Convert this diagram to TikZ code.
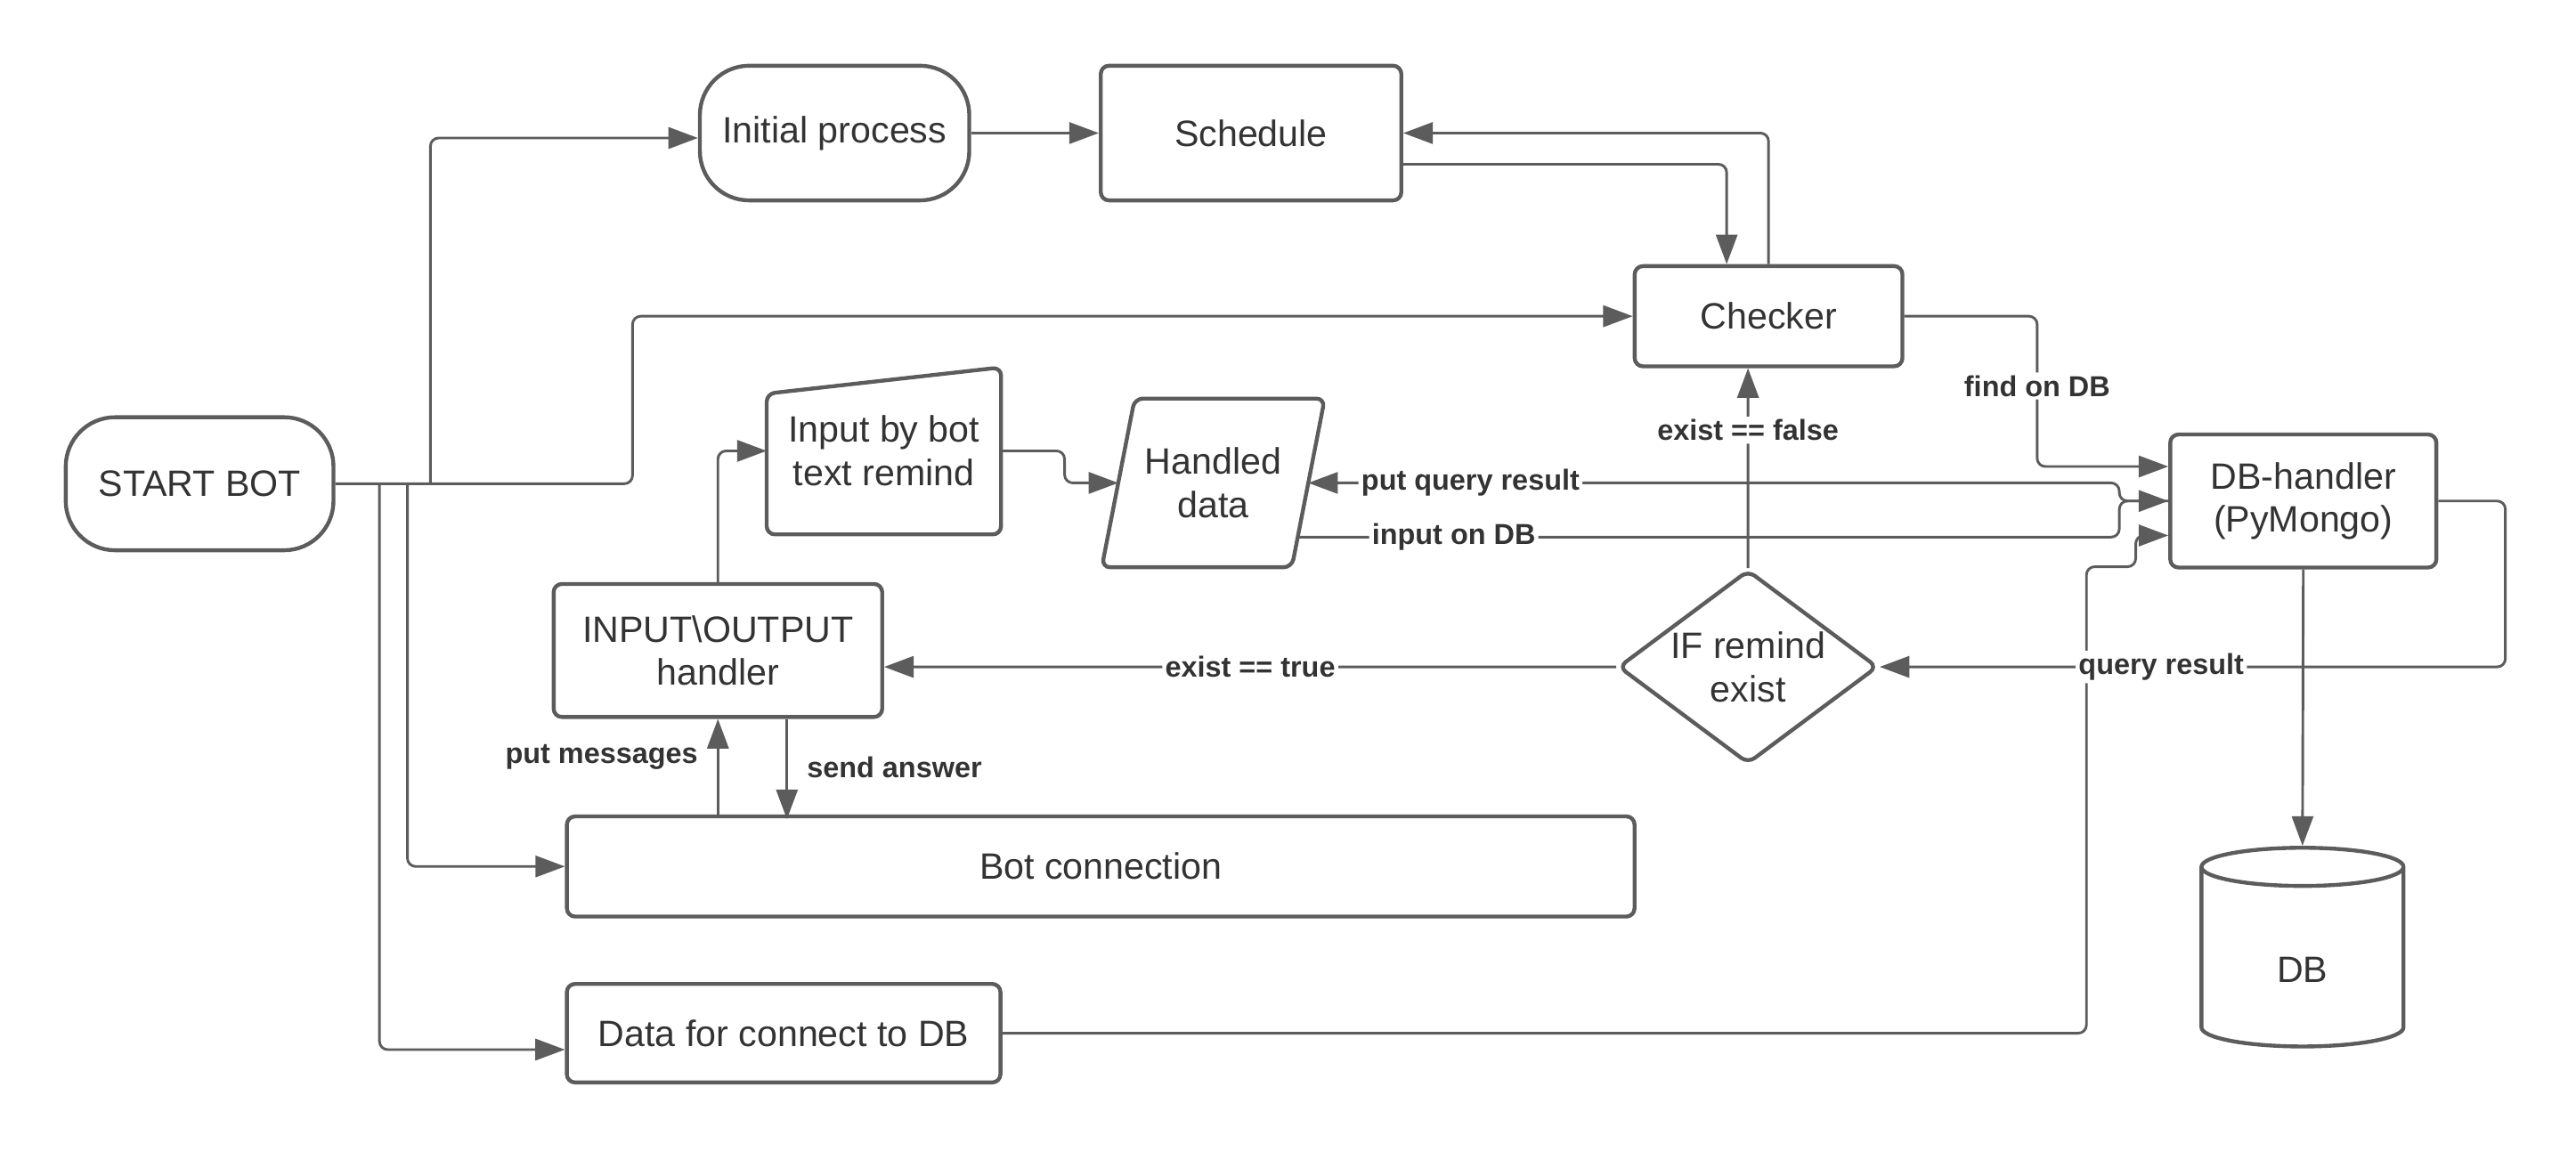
\documentclass[tikz,border=0pt]{standalone}
\usepackage{fontspec}
\setmainfont{Liberation Sans}
\usepackage{tikz}
\usetikzlibrary{shapes.geometric,arrows.meta,calc}
\definecolor{linegrey}{HTML}{5C5C5C}
\definecolor{textgrey}{HTML}{333333}

\begin{document}
\begin{tikzpicture}[x=0.02cm, y=-0.02cm,
  procbox/.style={rectangle, draw=linegrey, line width=1.35pt, rounded corners=0.1cm, text=textgrey, font=\fontsize{12.7}{15}\selectfont, align=center, inner sep=0pt},
  termbox/.style={procbox, rounded corners=0.6cm},
  freebox/.style={rectangle, text=textgrey, font=\fontsize{12.7}{15}\selectfont, align=center, inner sep=0pt},
  outline/.style={draw=linegrey, line width=1.35pt, rounded corners=0.1cm},
  decbox/.style={diamond, draw=linegrey, line width=1.35pt, rounded corners=0.1cm, text=textgrey, font=\fontsize{12.7}{15}\selectfont, align=center, inner sep=0pt, minimum width=3.16cm, minimum height=2.36cm, aspect=1.34},
  dbbox/.style={cylinder, shape border rotate=90, aspect=0.75, draw=linegrey, line width=1.35pt, text=textgrey, font=\fontsize{12.7}{15}\selectfont, minimum width=2.46cm, minimum height=2.42cm, inner sep=0pt},
  conn/.style={draw=linegrey, line width=0.9pt, rounded corners=0.1cm, -{Triangle[length=0.36cm,width=0.26cm]}},
  lbl/.style={fill=white, text=textgrey, font=\fontsize{10}{12}\selectfont\bfseries, inner sep=1pt},
  sidelbl/.style={text=textgrey, font=\fontsize{10}{12}\selectfont\bfseries, inner sep=6.5pt}
]
  \useasboundingbox (0,0) rectangle (1568,701);

  \node[termbox, minimum width=3.26cm, minimum height=1.62cm] (start) at (121.5,294.5) {START BOT};
  \node[termbox, minimum width=3.28cm, minimum height=1.64cm] (init) at (508,81) {Initial process};
  \node[procbox, minimum width=3.66cm, minimum height=1.64cm] (sched) at (761.5,81) {Schedule};
  \node[procbox, minimum width=3.26cm, minimum height=1.22cm] (check) at (1076.5,192.5) {Checker};
  \node[freebox, minimum width=2.84cm, minimum height=2.02cm] (inbot) at (538,274.5) {Input by bot\\text remind};
  \node[freebox, minimum width=2.70cm, minimum height=2.04cm] (hdata) at (738.5,294) {Handled\\data};
  \node[procbox, minimum width=3.24cm, minimum height=1.62cm] (dbh) at (1402,305) {DB-handler\\(PyMongo)};
  \node[procbox, minimum width=4cm, minimum height=1.62cm] (ioh) at (437,396) {INPUT\textbackslash OUTPUT\\handler};
  \node[decbox] (ifr) at (1064,406) {IF remind\\exist};
  \node[procbox, minimum width=13cm, minimum height=1.22cm] (botc) at (670,527.5) {Bot connection};
  \node[procbox, minimum width=5.28cm, minimum height=1.2cm] (dcon) at (477,629) {Data for connect to DB};
  \node[dbbox] (db) at (1401.5,583) {\raisebox{-0.3cm}[0pt][0pt]{DB}};

  \draw[outline] ($(inbot.north west)+(0,16)$) -- (inbot.north east) -- (inbot.south east) -- (inbot.south west) -- cycle;
  \draw[outline] ($(hdata.north west)+(20,0)$) -- (hdata.north east) -- ($(hdata.south east)-(20,0)$) -- (hdata.south west) -- cycle;

  \coordinate (splitA) at (262,294.5);
  \coordinate (splitB) at (248,294.5);
  \coordinate (splitC) at (231,294.5);

  \draw[conn] (start.east) -- (385,294.5) -- (385,192.5) -- (check.west);
  \draw[conn] (splitA) |- ([yshift=-0.06cm]init.west);
  \draw[conn] (splitB) |- (botc.west);
  \draw[conn] (splitC) |- ([yshift=-0.2cm]dcon.west);

  \draw[conn] (init.east) -- (sched.west);
  \draw[conn] ([yshift=-0.38cm]sched.east) -| ([xshift=-0.51cm]check.north);
  \draw[conn] (check.north) |- (sched.east);
  \draw[conn] (check.east) -| (1240,235) node[lbl] {find on DB} |- ([yshift=0.42cm]dbh.west);

  \draw[conn] (ifr.north) -- node[lbl, pos=0.69] {exist == false} ([xshift=-0.25cm]check.south);
  \draw[conn] (ifr.west) -- node[lbl] {exist == true} ([yshift=-0.2cm]ioh.east);

  \draw[conn] (dcon.east) -- (1270,629) -- (1270,345) -- (1300,345) -- (1300,326) -- ([yshift=-0.42cm]dbh.west);
  \draw[conn] (dbh.east) -- (1525,305) -- (1525,406) -- node[lbl, pos=0.55] {query result} (ifr.east);
  \draw[conn] (dbh.west) -- (1290,305) -- (1290,294) -- node[lbl, pos=0.8] {put query result} ([xshift=-0.2cm]hdata.east);
  \draw[conn] ([xshift=-0.33cm, yshift=-0.66cm]hdata.east) -- node[lbl, pos=0.19] {input on DB} (1290,327) -- (1290,305) -- (dbh.west);

  \draw[conn] (inbot.east) -- (648,274.5) |- ([xshift=0.2cm]hdata.west);
  \draw[conn] (ioh.north) |- (inbot.west);
  \draw[conn] (ioh.north |- botc.north) -- node[sidelbl, left, pos=0.6] {put messages} (ioh.south);
  \draw[conn] ($(ioh.south)+(42,0)$) -- node[sidelbl, right, pos=0.48] {send answer} ($(ioh.south)+(42,61)$);
  \draw[conn] (dbh.south) -- (db.north);
\end{tikzpicture}
\end{document}
